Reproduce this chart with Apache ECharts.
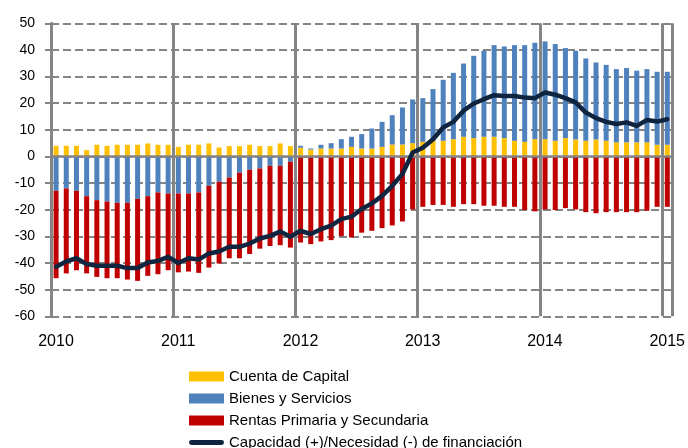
<!DOCTYPE html>
<html>
<head>
<meta charset="utf-8">
<script src="https://cdn.jsdelivr.net/npm/echarts@6/dist/echarts.min.js"></script>
<style>
html,body{margin:0;padding:0;background:#fff;}
#chart{width:688px;height:448px;}
</style>
</head>
<body>
<div id="chart"></div>
<script>
// Months Jan 2010 .. Jan 2015
const categories = [
 '2010-01','2010-02','2010-03','2010-04','2010-05','2010-06','2010-07','2010-08','2010-09','2010-10','2010-11','2010-12',
 '2011-01','2011-02','2011-03','2011-04','2011-05','2011-06','2011-07','2011-08','2011-09','2011-10','2011-11','2011-12',
 '2012-01','2012-02','2012-03','2012-04','2012-05','2012-06','2012-07','2012-08','2012-09','2012-10','2012-11','2012-12',
 '2013-01','2013-02','2013-03','2013-04','2013-05','2013-06','2013-07','2013-08','2013-09','2013-10','2013-11','2013-12',
 '2014-01','2014-02','2014-03','2014-04','2014-05','2014-06','2014-07','2014-08','2014-09','2014-10','2014-11','2014-12',
 '2015-01'
];
const yearLabels = ['2010','2011','2012','2013','2014','2015'];

const cuentaCapital = [
 4.0,4.0,4.0,2.4,4.4,4.0,4.4,4.4,4.4,4.9,4.4,4.4,
 3.6,4.4,4.4,4.9,3.4,3.9,3.9,4.4,3.9,3.9,4.9,3.9,
 3.3,2.6,3.0,3.0,3.0,3.6,3.0,3.0,3.6,4.5,4.5,5.0,
 5.5,5.9,5.9,6.5,7.4,6.9,7.4,7.4,6.9,5.9,5.5,6.5,
 6.5,5.9,6.9,6.4,5.9,6.4,5.9,5.3,5.3,5.3,5.3,4.4,
 4.4
];
const bienesServicios = [
 -12.9,-12.0,-12.9,-14.9,-16.4,-16.9,-17.4,-17.4,-15.9,-14.9,-13.5,-13.9,
 -13.9,-13.9,-13.5,-11.0,-9.5,-7.9,-6.1,-5.0,-4.5,-3.5,-3.5,-2.0,
 0.7,0.4,1.4,2.0,3.5,3.8,5.4,7.5,9.4,11.0,13.9,16.4,
 16.4,19.4,22.9,24.9,27.5,30.9,32.3,34.4,34.4,35.9,36.3,36.2,
 36.7,36.3,33.8,33.3,30.9,28.9,28.5,27.5,27.9,26.9,27.5,27.4,
 27.4
];
const rentas = [
 -32.8,-31.9,-29.8,-29.0,-28.8,-28.8,-28.3,-28.8,-30.8,-29.9,-30.7,-28.8,
 -29.6,-29.3,-30.2,-30.7,-30.7,-30.3,-32.1,-31.6,-30.1,-30.1,-29.8,-32.2,
 -32.3,-32.9,-31.9,-31.4,-29.9,-30.4,-28.6,-27.9,-26.9,-25.9,-24.4,-19.9,
 -18.9,-18.2,-18.2,-18.9,-17.9,-17.9,-18.5,-18.5,-18.9,-18.9,-20.1,-20.6,
 -19.9,-20.1,-19.4,-19.9,-20.9,-21.3,-20.9,-20.9,-20.9,-20.9,-20.4,-18.9,
 -18.9
];
const capacidad = [
 -41.4,-39.4,-38.2,-40.4,-41.0,-41.0,-41.0,-41.9,-41.9,-39.8,-39.2,-37.7,
 -40.0,-38.2,-38.7,-36.4,-35.7,-33.9,-33.9,-32.7,-30.8,-29.8,-28.2,-30.1,
 -27.9,-29.1,-27.3,-26.0,-23.5,-22.6,-19.7,-17.6,-14.8,-11.0,-6.6,1.5,
 3.3,6.5,10.9,13.0,17.2,19.9,21.5,23.0,22.7,22.7,22.1,21.9,
 24.0,23.2,21.9,20.3,16.5,14.4,13.0,12.2,12.8,11.5,13.7,13.1,
 14.0
];

const FONT = 'Liberation Sans';
const GRID_GRAY = '#858585';
const NAVY = '#0F243E';
// thin rounded bar centred in a 35x10 box (tiny corner specks keep the box size)
const LINE_ICON = 'path://M0,0 L0.01,0 L0,0.01 Z M35,10 L34.99,10 L35,9.99 Z M2,2.5 L33,2.5 A2.5,2.5 0 0 1 33,7.5 L2,7.5 A2.5,2.5 0 0 1 2,2.5 Z';

const chart = echarts.init(document.getElementById('chart'), null, {renderer:'canvas'});
chart.setOption({
  animation: false,
  backgroundColor: '#ffffff',
  textStyle: {fontFamily: FONT},
  grid: {left: 51, right: 13, top: 23.3, bottom: 131.7, containLabel: false},
  legend: {
    orient: 'vertical',
    left: 184,
    top: 364,
    height: 120,
    itemWidth: 35,
    itemHeight: 10,
    itemGap: 7,
    textStyle: {fontFamily: FONT, fontSize: 15, color: '#000'},
    data: [
      {name: 'Cuenta de Capital', icon: 'rect'},
      {name: 'Bienes y Servicios', icon: 'rect'},
      {name: 'Rentas Primaria y Secundaria', icon: 'rect'},
      {name: 'Capacidad (+)/Necesidad (-) de financiación', icon: LINE_ICON, itemStyle: {color: NAVY}}
    ]
  },
  xAxis: [
    {
      type: 'category',
      data: categories,
      boundaryGap: true,
      position: 'bottom',
      axisLine: {show: true, onZero: true, lineStyle: {color: GRID_GRAY, width: 2.5}},
      axisTick: {show: false},
      axisLabel: {show: false},
      splitLine: {show: false},
      z: 3
    },
    {
      type: 'value',
      min: 0,
      max: categories.length,
      interval: 12,
      position: 'bottom',
      axisLine: {show: false, onZero: false},
      axisTick: {show: false},
      axisLabel: {
        show: true,
        margin: 17,
        fontFamily: FONT,
        fontSize: 16,
        color: '#000',
        padding: [0, 0, 0, 10],
        formatter: function (v) { const i = Math.round(v / 12); return yearLabels[i] || ''; }
      },
      splitLine: {show: true, lineStyle: {color: GRID_GRAY, width: 3, type: 'solid'}}
    }
  ],
  yAxis: {
    type: 'value',
    min: -60,
    max: 50,
    interval: 10,
    axisLine: {show: true, lineStyle: {color: GRID_GRAY, width: 3}},
    axisTick: {show: true, length: 6, lineStyle: {color: GRID_GRAY, width: 2}},
    axisLabel: {margin: 16, fontFamily: FONT, fontSize: 14, color: '#000'},
    splitLine: {show: true, lineStyle: {color: GRID_GRAY, width: 2, type: [8, 4]}}
  },
  series: [
    {
      name: 'Cuenta de Capital', type: 'bar', stack: 'total', barWidth: 5,
      itemStyle: {color: '#FFC000'}, data: cuentaCapital, z: 2
    },
    {
      name: 'Bienes y Servicios', type: 'bar', stack: 'total', barWidth: 5,
      itemStyle: {color: '#4F81BD'}, data: bienesServicios, z: 2
    },
    {
      name: 'Rentas Primaria y Secundaria', type: 'bar', stack: 'total', barWidth: 5,
      itemStyle: {color: '#C00000'}, data: rentas, z: 2
    },
    {
      name: 'Capacidad (+)/Necesidad (-) de financiación', type: 'line',
      symbol: 'none', showSymbol: false, smooth: false,
      lineStyle: {color: NAVY, width: 4.5, cap: 'round', join: 'round'},
      itemStyle: {color: NAVY},
      data: capacidad, z: 5
    }
  ]
});
</script>
</body>
</html>
